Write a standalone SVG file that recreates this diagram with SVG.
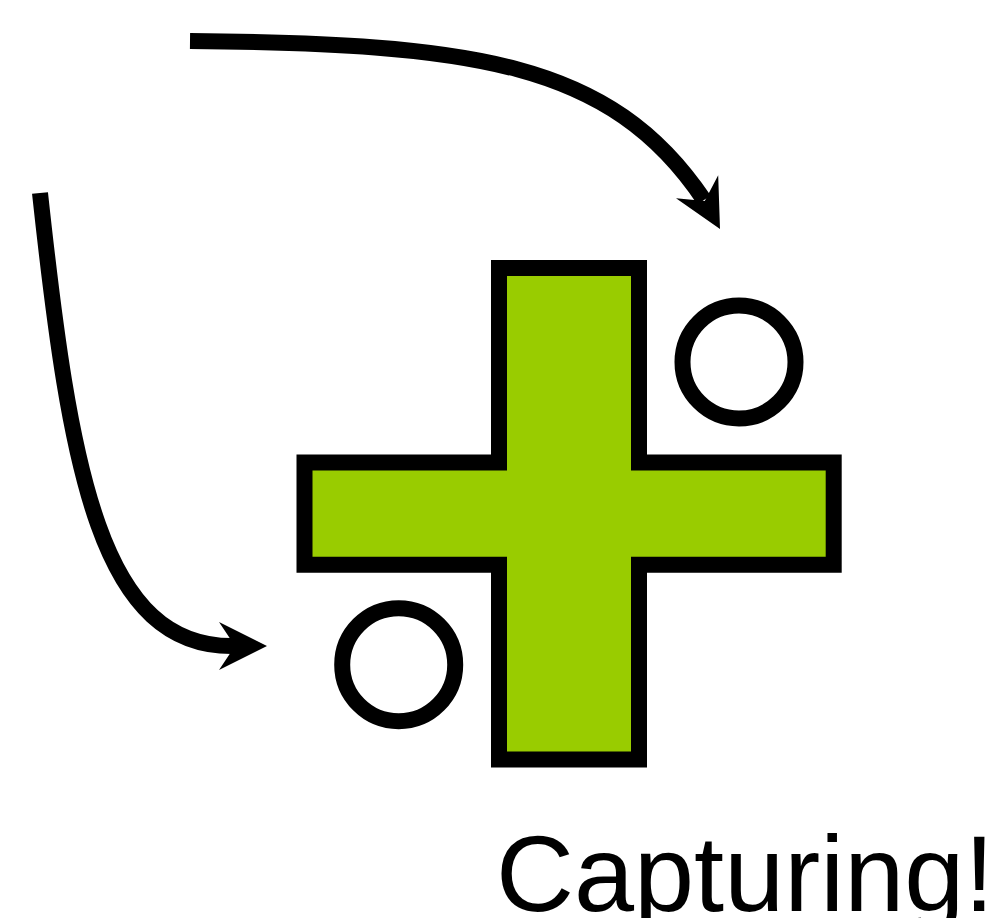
<svg xmlns="http://www.w3.org/2000/svg" width="988" height="918" viewBox="0 0 988 918">
  <style>
    .outline { stroke: #000; stroke-width: 16; stroke-linejoin: miter; }
    .cross { fill: #99cc00; }
    .ring { fill: #fff; }
    .shaft { fill: none; stroke: #000; stroke-width: 16; stroke-linecap: butt; }
    .head { fill: #000; }
    .label { font-family: "Liberation Sans", Arial, sans-serif; font-size: 108px; fill: #000; }
  </style>
  <defs>
    <!-- concave arrowhead, tip at origin, pointing along +x -->
    <path id="arrowhead" d="M0,0 L-48,-24 L-32,0 L-48,24 Z"/>
  </defs>
  <rect width="988" height="918" fill="#fff"/>

  <g id="connectors">
    <g id="arrow-top">
      <path class="shaft" d="M190,41 C470,44 610,60 704,200"/>
      <use href="#arrowhead" class="head" transform="translate(720,229) rotate(61.5)"/>
    </g>
    <g id="arrow-left">
      <path class="shaft" d="M40,193 C70,470 100,650 236,646"/>
      <use href="#arrowhead" class="head" transform="translate(267,646)"/>
    </g>
  </g>

  <g id="cross">
    <path class="cross outline" d="M499,268 H639 V462.5 H833.7 V564.7 H639 V759.5 H499 V564.7 H304.5 V462.5 H499 Z"/>
  </g>

  <g id="circle-top-right">
    <circle class="ring outline" cx="739" cy="362" r="56.5"/>
  </g>

  <g id="circle-bottom-left">
    <circle class="ring outline" cx="398.7" cy="664.7" r="56.5"/>
  </g>

  <g id="caption">
    <text class="label" x="496" y="911">Capturing!</text>
  </g>
</svg>
